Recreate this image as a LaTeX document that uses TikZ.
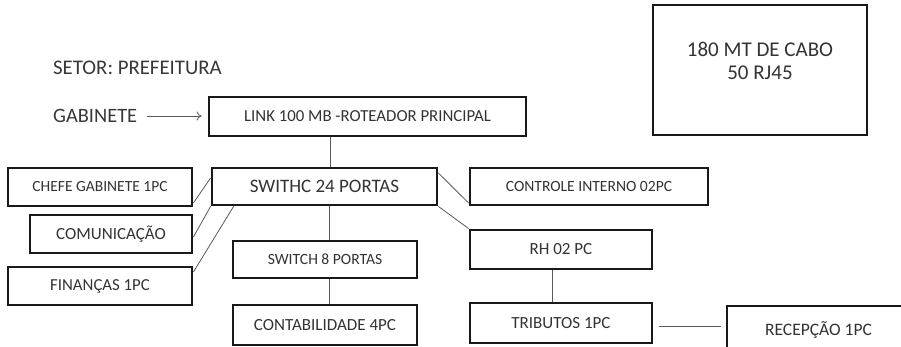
\documentclass[tikz,border=0pt]{standalone}
\usepackage{fontspec}
\setmainfont{Carlito}
\usetikzlibrary{positioning,arrows.meta}
\tikzset{
  setor/.style={draw=black!90, line width=2.8pt, inner sep=0pt, text=black!80},
  rotulo/.style={inner sep=0pt, text=black!78, anchor=west},
  fio/.style={draw=black!65, line width=0.8pt},
}
\newcommand{\fs}[1]{\fontsize{#1}{#1}\selectfont}

\begin{document}
\begin{tikzpicture}[x=1pt,y=-1pt]
  \useasboundingbox (0,0) rectangle (901,347);
  \fill[white] (0,0) rectangle (901,347);

  % titulos
  \node[rotulo, font=\fs{20.8}] (setortxt) at (53,68) {SETOR: PREFEITURA};
  \node[rotulo, font=\fs{20.4}] (gab) at (53,116) {GABINETE};

  % material
  \node[setor, minimum width=214pt, minimum height=130pt] (cabo) at (760,70) {};
  \node[text=black!80, font=\fontsize{21}{23}\selectfont, align=center] (cabotxt)
    at ([yshift=9pt]cabo.center) {180 MT DE CABO\\50 RJ45};

  % rede
  \node[setor, minimum width=317pt, minimum height=39pt, font=\fs{16.8}] (link) at (367.5,116.5) {LINK 100 MB -ROTEADOR PRINCIPAL};
  \node[setor, minimum width=225pt, minimum height=37pt, font=\fs{19}] (sw24) at (324.5,186.5) {SWITHC 24 PORTAS};
  \node[setor, minimum width=184pt, minimum height=38pt, font=\fs{15.5}] (chefe) at (100,187) {CHEFE GABINETE 1PC};
  \node[setor, minimum width=162pt, minimum height=38pt, font=\fs{17}] (comunic) at (111,234) {COMUNICAÇÃO};
  \node[setor, minimum width=184pt, minimum height=38pt, font=\fs{16.8}] (financas) at (100,286) {FINANÇAS 1PC};
  \node[setor, minimum width=184pt, minimum height=37pt, font=\fs{15.6}] (sw8) at (325,259.5) {SWITCH 8 PORTAS};
  \node[setor, minimum width=184pt, minimum height=40pt, font=\fs{17}] (contab) at (325,325) {CONTABILIDADE 4PC};
  \node[setor, minimum width=238pt, minimum height=37pt, font=\fs{15.6}] (controle) at (589,186.5) {CONTROLE INTERNO 02PC};
  \node[setor, minimum width=182pt, minimum height=39pt, font=\fs{17}] (rh) at (561,249.5) {RH 02 PC};
  \node[setor, minimum width=182pt, minimum height=40pt, font=\fs{17}] (tributos) at (561,323) {TRIBUTOS 1PC};
  \node[setor, minimum width=183pt, minimum height=48pt, font=\fs{17.5}] (recepcao) at (818.5,330) {RECEPÇÃO 1PC};

  % ligacoes
  \draw[fio, -{To[length=5pt,width=9pt]}, shorten <=10pt, shorten >=6pt] (gab.east) -- (gab.east -| link.west);
  \draw[fio] ([xshift=6pt]sw24.north) -- ([xshift=6pt]sw24.north |- link.south);
  \draw[fio] ([xshift=4pt]sw8.north) -- ([xshift=4pt]sw8.north |- sw24.south);
  \draw[fio] ([xshift=4pt]contab.north) -- ([xshift=4pt]contab.north |- sw8.south);
  \draw[fio] ([yshift=-16pt]chefe.east) -- ([yshift=8.5pt]sw24.west);
  \draw[fio] ([yshift=-3pt]comunic.east) -- (sw24.south west);
  \draw[fio] ([yshift=14pt]financas.east) -- ([xshift=23pt]sw24.south west);
  \draw[fio] ([yshift=13.5pt]sw24.east) -- ([yshift=-16.5pt]controle.west);
  \draw[fio] (sw24.south east) -- (rh.north west);
  \draw[fio] ([xshift=-9pt]tributos.north) -- ([xshift=-9pt]tributos.north |- rh.south);
  \draw[fio, shorten <=6pt, shorten >=5pt] ([yshift=-3pt]tributos.east) -- ([yshift=-3pt]tributos.east -| recepcao.west);
\end{tikzpicture}
\end{document}
